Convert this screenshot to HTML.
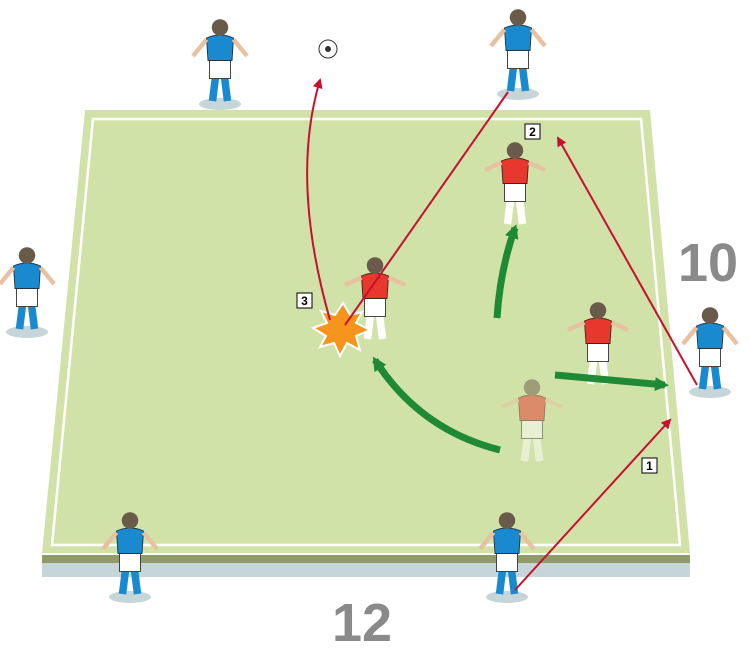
<!DOCTYPE html>
<html><head><meta charset="utf-8"><style>html,body{margin:0;padding:0;background:#fff}svg{display:block}</style></head><body>
<svg width="750" height="654" viewBox="0 0 750 654" xmlns="http://www.w3.org/2000/svg">
<defs>
<marker id="ar" markerWidth="10" markerHeight="10" refX="8" refY="5" orient="auto" markerUnits="userSpaceOnUse"><path d="M0,0 L10,5 L0,10 z" fill="#c8102e"/></marker>
<marker id="ag" markerWidth="14" markerHeight="14" refX="10" refY="7" orient="auto" markerUnits="userSpaceOnUse"><path d="M0,0 L14,7 L0,14 z" fill="#1e8a36"/></marker>
<g id="pb"><ellipse cx="0" cy="48" rx="14" ry="4" fill="#c5d5d8"/><path d="M-3,30 L-5,46 M3,30 L5,46" stroke="#1a8ad0" stroke-width="5"/><rect x="-7" y="18" width="14" height="13" fill="#fff" stroke="#333" stroke-width=".6"/><path d="M-9,4 Q0,0 9,4 L8,19 L-8,19 z" fill="#1a8ad0" stroke="#234" stroke-width=".6"/><path d="M-9,5 L-18,16 M9,5 L18,16" stroke="#e8c1a0" stroke-width="3"/><circle cx="0" cy="-3" r="5.5" fill="#6a5a4a"/></g>
<g id="pr"><path d="M-3,30 L-5,46 M3,30 L5,46" stroke="#fff" stroke-width="5"/><rect x="-7" y="18" width="14" height="13" fill="#fff" stroke="#333" stroke-width=".6"/><path d="M-9,4 Q0,0 9,4 L8,19 L-8,19 z" fill="#e8372d" stroke="#422" stroke-width=".6"/><path d="M-9,5 L-20,10 M9,5 L20,10" stroke="#e8c1a0" stroke-width="3"/><circle cx="0" cy="-3" r="5.5" fill="#6a5a4a"/></g>
</defs>
<polygon points="85,110 650,110 690,553 42,553" fill="#d1e2a9"/>
<polygon points="93,119 641,119 680,545 52,545" fill="none" stroke="#fff" stroke-width="2.5"/>
<rect x="42" y="555" width="648" height="8" fill="#8f9b68"/>
<rect x="42" y="563" width="648" height="14" fill="#c5d5d8"/>
<text x="678" y="281" font-family="Liberation Sans,sans-serif" font-weight="bold" font-size="54" fill="#8a8a8a">10</text>
<text x="332" y="641" font-family="Liberation Sans,sans-serif" font-weight="bold" font-size="54" fill="#8a8a8a">12</text>
<use href="#pb" transform="translate(220,32) scale(1.5)"/>
<use href="#pb" transform="translate(518,22) scale(1.5)"/>
<use href="#pb" transform="translate(27,260) scale(1.5)"/>
<use href="#pb" transform="translate(710,320) scale(1.5)"/>
<use href="#pb" transform="translate(130,525) scale(1.5)"/>
<use href="#pb" transform="translate(507,525) scale(1.5)"/>
<use href="#pr" transform="translate(515,155) scale(1.5)"/>
<use href="#pr" transform="translate(598,315) scale(1.5)"/>
<use href="#pr" transform="translate(375,270) scale(1.5)"/>
<g opacity=".5"><use href="#pr" transform="translate(532,392) scale(1.5)"/></g>
<circle cx="328" cy="49" r="9" fill="#fff" stroke="#333"/><circle cx="328" cy="49" r="3" fill="#333"/>
<polygon points="343,303 350,315 362,312 356,323 370,330 356,336 360,350 347,343 340,356 334,343 320,347 326,336 313,328 327,323 321,311 335,315" fill="#f7941d" stroke="#fff" stroke-width="2"/>
<path d="M515,590 L670,420" stroke="#c8102e" stroke-width="2" marker-end="url(#ar)"/>
<path d="M697,385 L558,138" stroke="#c8102e" stroke-width="2" marker-end="url(#ar)"/>
<path d="M345,325 L508,92" stroke="#c8102e" stroke-width="2"/>
<path d="M330,320 Q290,180 320,80" stroke="#c8102e" stroke-width="2" fill="none" marker-end="url(#ar)"/>
<path d="M500,450 Q420,430 375,360" stroke="#1e8a36" stroke-width="7" fill="none" marker-end="url(#ag)"/>
<path d="M497,318 Q500,270 515,228" stroke="#1e8a36" stroke-width="7" fill="none" marker-end="url(#ag)"/>
<path d="M555,375 L665,385" stroke="#1e8a36" stroke-width="7" fill="none" marker-end="url(#ag)"/>
<g font-family="Liberation Sans,sans-serif" font-weight="bold" font-size="12" text-anchor="middle">
<rect x="642" y="458" width="15" height="15" fill="#fff" stroke="#000"/><text x="649.5" y="470">1</text>
<rect x="525" y="124" width="15" height="15" fill="#fff" stroke="#000"/><text x="532.5" y="136">2</text>
<rect x="297" y="293" width="15" height="15" fill="#fff" stroke="#000"/><text x="304.5" y="305">3</text>
</g>
</svg>
</body></html>
